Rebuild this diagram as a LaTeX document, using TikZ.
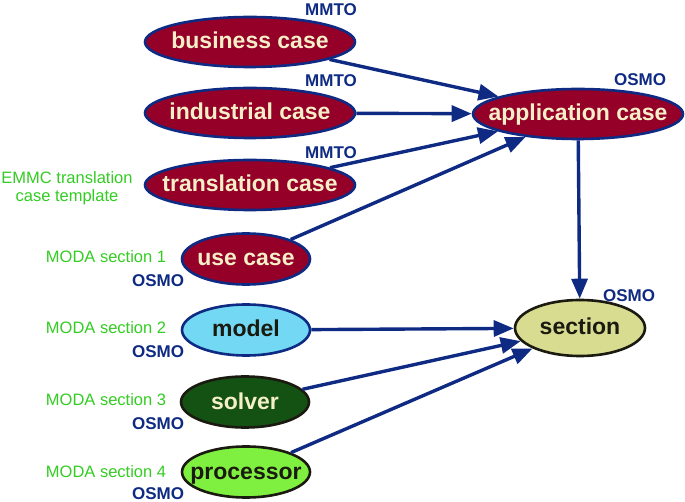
\documentclass[tikz,border=0pt]{standalone}
\usepackage{fontspec}
\setmainfont{Liberation Sans}
\usetikzlibrary{shapes.geometric,arrows.meta}
\definecolor{caseRed}{HTML}{950028}
\definecolor{navy}{HTML}{0E2A82}
\definecolor{cream}{HTML}{F5EFC8}
\definecolor{modelBlue}{HTML}{72D8F4}
\definecolor{solverGreen}{HTML}{145214}
\definecolor{procGreen}{HTML}{80F040}
\definecolor{sectionFill}{HTML}{D8DC90}
\definecolor{lblGreen}{HTML}{33CC22}
\definecolor{darkText}{HTML}{1A1A10}
\newcommand{\fixed}[1]{\makebox[0pt]{#1}}
\tikzset{
  ent/.style={ellipse, inner sep=0pt, line width=2.6pt, text height=14pt, text depth=0pt, font=\fontsize{23}{24}\selectfont\bfseries},
  bigcase/.style={ent, draw=navy, fill=caseRed, text=cream, minimum width=210pt, minimum height=50pt},
  smallent/.style={ent, minimum width=128pt, minimum height=51pt},
  tag/.style={text=navy, font=\fontsize{17}{19}\selectfont\bfseries, inner sep=0pt},
  src/.style={text=lblGreen, font=\fontsize{16.5}{19}\selectfont, inner sep=0pt},
  link/.style={draw=navy, line width=3.4pt, -{Triangle[length=20pt,width=16pt]}},
}
\begin{document}
\begin{tikzpicture}[x=1pt,y=-1pt]
\useasboundingbox (0,0) rectangle (685,502);
% nodes
\node[bigcase] (bus) at (250,42) {\fixed{business case}};
\node[bigcase] (ind) at (250,113) {\fixed{industrial case}};
\node[bigcase] (tra) at (250,185) {\fixed{translation case}};
\node[bigcase] (app) at (578,114) {\fixed{application case}};
\node[smallent, draw=navy, fill=caseRed, text=cream] (use) at (246,259) {\fixed{use case}};
\node[smallent, draw=navy, fill=modelBlue, text=darkText] (mod) at (246,330) {\fixed{model}};
\node[smallent, draw=darkText, fill=solverGreen, text=cream] (sol) at (245,402) {\fixed{solver}};
\node[smallent, draw=darkText, fill=procGreen, text=darkText] (pro) at (246,472) {\fixed{processor}};
\node[ent, draw=darkText, fill=sectionFill, text=darkText, minimum width=130pt, minimum height=56pt] (sec) at (580,328) {\fixed{section}};
% tags
\node[tag] (t1) at (331,10) {MMTO};
\node[tag] (t2) at (331,81) {MMTO};
\node[tag] (t3) at (331,153) {MMTO};
\node[tag] (t4) at (640,80) {OSMO};
\node[tag] (t5) at (629,296) {OSMO};
\node[tag] (t6) at (158,281) {OSMO};
\node[tag] (t7) at (158,352) {OSMO};
\node[tag] (t8) at (158,424) {OSMO};
\node[tag] (t9) at (158,494) {OSMO};
% source labels
\node[src, align=center] (s0) at (67,188) {EMMC translation\\[-1pt]case template};
\node[src] (s1) at (106,257) {MODA section 1};
\node[src] (s2) at (106,328) {MODA section 2};
\node[src] (s3) at (106,400) {MODA section 3};
\node[src] (s4) at (106,472) {MODA section 4};
% connectors
\draw[link] (bus) -- (app);
\draw[link] (ind) -- (app);
\draw[link] (tra) -- (app);
\draw[link] (use) -- (app);
\draw[link] (app) -- (sec);
\draw[link] (mod) -- (sec);
\draw[link] (sol) -- (sec);
\draw[link] (pro) -- (sec);
\end{tikzpicture}
\end{document}
